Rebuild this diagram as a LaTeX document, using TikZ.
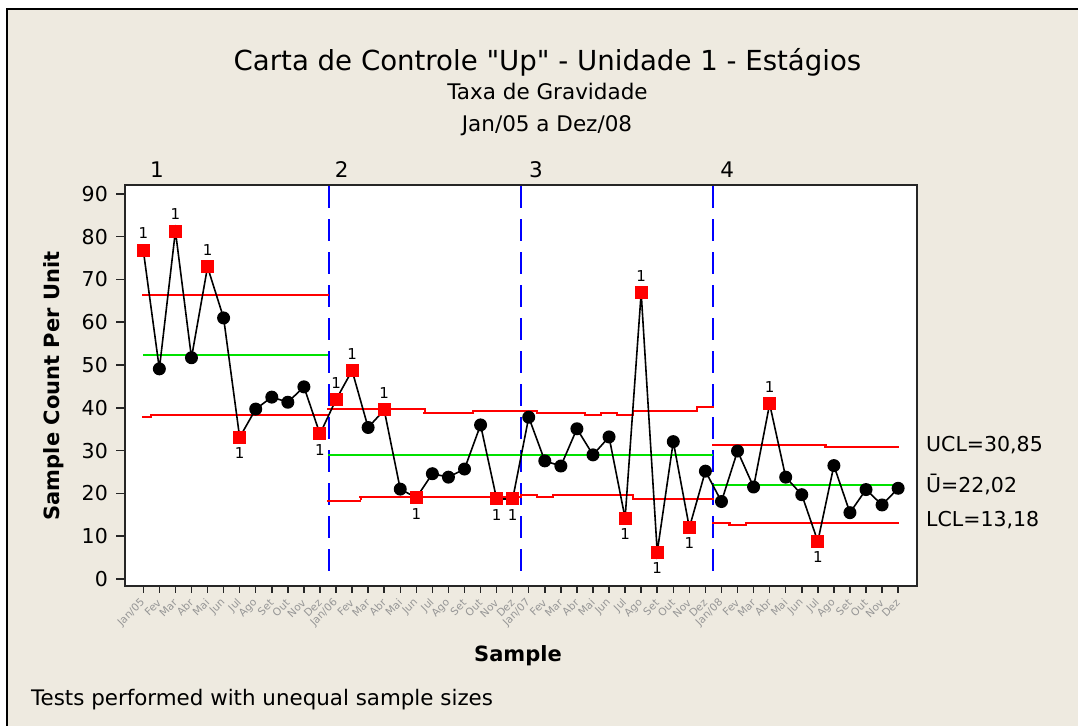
\documentclass[tikz,border=0pt]{standalone}
\usepackage{fontspec}
\setmainfont{DejaVu Sans}
\usetikzlibrary{positioning}
\definecolor{panel}{RGB}{238,234,224}
\definecolor{limitred}{RGB}{255,0,0}
\definecolor{meangreen}{RGB}{0,225,0}
\definecolor{stageblue}{RGB}{0,0,255}
\definecolor{monthgray}{RGB}{150,150,150}
\newcommand{\pxsize}[1]{\fontsize{#1}{#1}\selectfont}

\begin{document}
\begin{tikzpicture}[x=1pt, y=-1pt,
    dataline/.style={draw=black, line width=1.6pt},
    inpt/.style={circle, fill=black, minimum size=13pt, inner sep=0pt},
    outpt/.style={rectangle, fill=limitred, minimum size=13pt, inner sep=0pt},
    flagtxt/.style={inner sep=0pt, font=\pxsize{15}},
    ticktxt/.style={inner sep=0pt, font=\pxsize{20.5}},
    monthtxt/.style={inner sep=0pt, font=\pxsize{10.5}, text=monthgray, rotate=45, anchor=east},
    sidetxt/.style={inner sep=0pt, font=\pxsize{20.5}, anchor=west}]
    \useasboundingbox (0,0) rectangle (1078,726);
    %Background
    \fill[white] (0,0) rectangle (1078,726);
    \fill[panel] (6,8) rectangle (1078,726);
    \fill[black] (6,8) rectangle (1078,10);
    \fill[black] (6,8) rectangle (8,726);
    \fill[white] (125,185) rectangle (917,586);

    %Titles
    \node[inner sep=0pt, anchor=base, font=\pxsize{27.6}] (title) at (547.5,70) {Carta de Controle \textquotedbl Up\textquotedbl{} - Unidade 1 - Estágios};
    \node[inner sep=0pt, anchor=base, font=\pxsize{21.5}] (sub1) at (547.5,99) {Taxa de Gravidade};
    \node[inner sep=0pt, anchor=base, font=\pxsize{21.5}] (sub2) at (547,131.7) {Jan/05 a Dez/08};

    %Stages
    \node[inner sep=0pt, anchor=base, font=\pxsize{21.5}] (st1) at (157,177.3) {1};
    \node[inner sep=0pt, anchor=base, font=\pxsize{21.5}] (st2) at (341.7,177.3) {2};
    \node[inner sep=0pt, anchor=base, font=\pxsize{21.5}] (st3) at (536,177.3) {3};
    \node[inner sep=0pt, anchor=base, font=\pxsize{21.5}] (st4) at (727.3,177.3) {4};

    %Stage separators
    \foreach \sx in {328,520,712}
        \foreach \sy in {186,219,...,570}
            \fill[stageblue] (\sx,\sy) rectangle (\sx+2,{min(\sy+22,586)});

    %Limits: from/to/value
    \foreach \a/\b/\v in {0/11.5/66.3, 0/0.5/37.7, 0.5/11.5/38.2,
        11.5/17.5/39.5, 17.5/20.5/38.8, 20.5/23.5/39.2, 11.5/13.5/18.4, 13.5/23.5/19.0,
        23.5/24.5/39.1, 24.5/25.5/38.8, 25.5/27.5/38.6, 27.5/28.5/38.4, 28.5/29.5/38.8, 29.5/30.5/38.4, 30.5/34.5/39.4, 34.5/35.5/40.2,
        23.5/24.5/19.5, 24.5/25.5/19.0, 25.5/30.5/19.5, 30.5/35.5/18.6,
        35.5/41.5/31.1, 41.5/42.5/31.4, 42.5/47/30.9,
        35.5/36.5/13.0, 36.5/37.5/12.65, 37.5/42.5/13.0, 42.5/47/13.3} {
        \pgfmathsetmacro{\yr}{2*floor((579-4.28*\v)/2)}
        \fill[limitred] ({143.3+16.06*\a-1},\yr) rectangle ({143.3+16.06*\b+1},\yr+2);
    }
    %Steps: at/from/to
    \foreach \a/\u/\w in {0.5/37.7/38.2, 17.5/39.5/38.8, 20.5/38.8/39.2, 13.5/18.4/19.0,
        24.5/39.1/38.8, 25.5/38.8/38.6, 27.5/38.6/38.4, 28.5/38.4/38.8, 29.5/38.8/38.4, 30.5/38.4/39.4, 34.5/39.4/40.2,
        24.5/19.5/19.0, 25.5/19.0/19.5, 30.5/19.5/18.6,
        41.5/31.1/31.4, 42.5/31.4/30.9, 36.5/13.0/12.65, 37.5/12.65/13.0, 42.5/13.0/13.3} {
        \pgfmathsetmacro{\xr}{2*floor((143.3+16.06*\a)/2)}
        \pgfmathsetmacro{\yu}{2*floor((579-4.28*\u)/2)}
        \pgfmathsetmacro{\yw}{2*floor((579-4.28*\w)/2)}
        \fill[limitred] (\xr,\yu) rectangle (\xr+2,\yw+2);
    }
    %Centre lines
    \foreach \a/\b/\v in {0/11.5/52.4, 11.5/35.5/29.0, 35.5/47/22.05} {
        \pgfmathsetmacro{\yr}{2*floor((579-4.28*\v)/2)}
        \fill[meangreen] ({143.3+16.06*\a},\yr) rectangle ({143.3+16.06*\b},\yr+2);
    }

    \begin{scope}[shift={(143.3,579)}, x=16.06pt, y=4.28pt]
    %Data
    \foreach \v [count=\i] in {76.8,49.1,81.3,51.7,72.9,61.0,33.1,39.7,42.5,41.3,44.9,33.9,
        41.9,48.7,35.4,39.5,21.0,19.0,24.6,23.8,25.7,36.0,18.7,18.7,
        37.8,27.6,26.4,35.1,29.0,33.2,14.2,66.9,6.3,32.1,12.0,25.2,
        18.1,29.9,21.5,40.9,23.8,19.7,8.8,26.5,15.5,20.9,17.3,21.2}
        \coordinate (p\i) at (\i-1,\v);
    \draw[dataline] (p1) \foreach \i in {2,...,48} { -- (p\i) };

    %Points
    \foreach \i in {2,4,6,8,9,10,11,15,17,19,20,21,22,25,26,27,28,29,30,34,36,37,38,39,41,42,44,45,46,47,48}
        \node[inpt] (m\i) at (p\i) {};
    \foreach \i in {1,3,5,13,14,16,32,40} {
        \node[outpt] (m\i) at (p\i) {};
        \node[flagtxt, above=4.5pt of m\i] (f\i) {1};
    }
    \foreach \i in {7,12,18,23,24,31,33,35,43} {
        \node[outpt] (m\i) at (p\i) {};
        \node[flagtxt, below=3.5pt of m\i] (f\i) {1};
    }
    \end{scope}

    %Axes
    \draw[line width=2pt, black!85] (125,185) rectangle (917,586);
    \foreach \v in {0,10,...,90} {
        \draw[line width=1.5pt, black!85] (116,{579-4.28*\v}) -- (125,{579-4.28*\v});
        \node[ticktxt, anchor=east] (y\v) at (108,{579-4.28*\v}) {\v};
    }
    \foreach \yr [count=\k from 0] in {05,06,07,08}
        \foreach \m [count=\j] in {Jan/\yr,Fev,Mar,Abr,Mai,Jun,Jul,Ago,Set,Out,Nov,Dez} {
            \pgfmathsetmacro{\xx}{143.3+16.06*(12*\k+\j-1)}
            \draw[line width=1.5pt, black!85] (\xx,586) -- (\xx,593);
            \node[monthtxt] (t\k\j) at (\xx,601) {\m};
        }

    %Labels
    \node[sidetxt] (ucl) at (926,445) {UCL=30,85};
    \node[sidetxt] (ubar) at (926,484) {Ū=22,02};
    \node[sidetxt] (lcl) at (926,520) {LCL=13,18};
    \node[font=\bfseries\pxsize{21}, rotate=90, inner sep=0pt] (ylab) at (54,386) {Sample Count Per Unit};
    \node[font=\bfseries\pxsize{21}, inner sep=0pt] (xlab) at (518,656) {Sample};
    \node[font=\pxsize{21.4}, inner sep=0pt, anchor=west] (note) at (31,700) {Tests performed with unequal sample sizes};
\end{tikzpicture}
\end{document}
